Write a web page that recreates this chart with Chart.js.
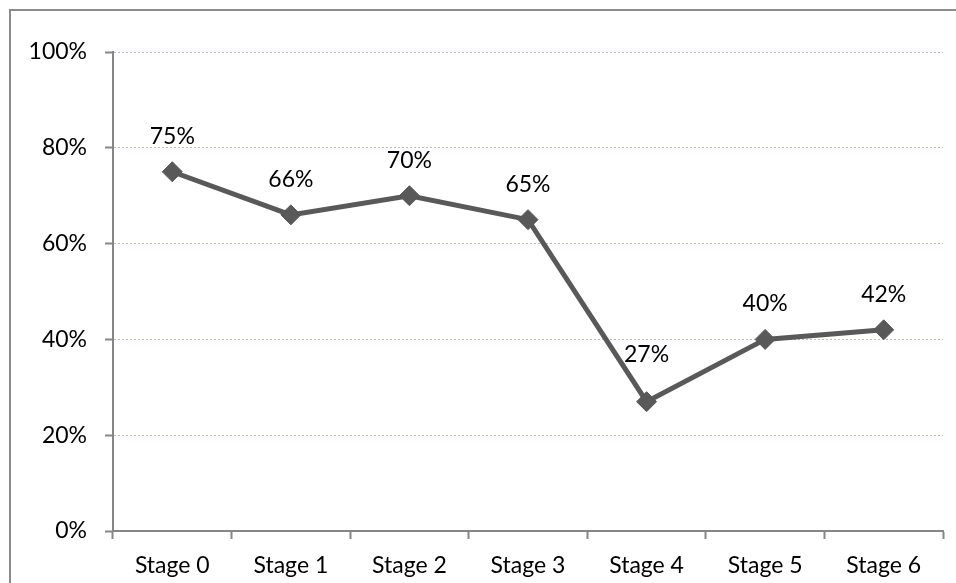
<!DOCTYPE html>
<html>
<head>
<meta charset="utf-8">
<script src="https://cdn.jsdelivr.net/npm/chart.js@4/dist/chart.umd.min.js"></script>
<style>
  html, body { margin: 0; padding: 0; background: #ffffff; }
  #wrap { position: relative; width: 956px; height: 583px; }
</style>
</head>
<body>
<div id="wrap"><canvas id="chart" width="956" height="583"></canvas></div>
<script>
// Share of participants at each stage
const stages = ['Stage 0', 'Stage 1', 'Stage 2', 'Stage 3', 'Stage 4', 'Stage 5', 'Stage 6'];
const shares = [75, 66, 70, 65, 27, 40, 42];
const yTicks = [0, 20, 40, 60, 80, 100];

const FONT = { family: 'Lato, "Liberation Sans", sans-serif', size: 23 };
const AXIS_GREY = '#868686';
const LINE_GREY = '#595959';

// Outer frame around the whole chart
const framePlugin = {
  id: 'frame',
  beforeDraw(chart) {
    const ctx = chart.ctx;
    ctx.save();
    ctx.fillStyle = '#ffffff';
    ctx.fillRect(0, 0, chart.width, chart.height);
    ctx.strokeStyle = '#8c8c8c';
    ctx.lineWidth = 2;
    ctx.strokeRect(10, 10, chart.width + 20, chart.height + 20);
    ctx.restore();
  }
};

// Percentage label above each point
const valueLabels = {
  id: 'valueLabels',
  afterDatasetsDraw(chart, args, opts) {
    const ctx = chart.ctx;
    const meta = chart.getDatasetMeta(0);
    const data = chart.data.datasets[0].data;
    ctx.save();
    ctx.font = `${FONT.size}px ${FONT.family}`;
    ctx.fillStyle = '#000000';
    ctx.textAlign = 'center';
    ctx.textBaseline = 'alphabetic';
    meta.data.forEach((pt, i) => {
      const extra = (opts.extraLift && opts.extraLift[i]) || 0;
      ctx.fillText(data[i] + '%', pt.x, pt.y - opts.lift - extra);
    });
    ctx.restore();
  }
};

new Chart(document.getElementById('chart'), {
  type: 'line',
  data: {
    labels: stages,
    datasets: [{
      data: shares,
      borderColor: LINE_GREY,
      backgroundColor: LINE_GREY,
      borderWidth: 5,
      tension: 0,
      pointStyle: 'rectRot',
      pointRadius: 10,
      pointBorderWidth: 1,
      pointBorderColor: LINE_GREY,
      pointBackgroundColor: LINE_GREY,
      clip: false
    }]
  },
  options: {
    responsive: false,
    animation: false,
    layout: { padding: { top: 52, right: 13, left: 0, bottom: 0 } },
    plugins: {
      legend: { display: false },
      tooltip: { enabled: false },
      valueLabels: { lift: 28, extraLift: { 4: 12 } }
    },
    scales: {
      x: {
        offset: true,
        grid: {
          offset: true,
          drawOnChartArea: false,
          tickLength: 8,
          tickColor: AXIS_GREY,
          tickWidth: 2
        },
        border: { color: AXIS_GREY, width: 2 },
        ticks: { color: '#000000', font: FONT, padding: 13, maxRotation: 0 },
        afterFit(scale) { scale.height = 52; }
      },
      y: {
        min: 0,
        max: 100,
        afterBuildTicks(scale) { scale.ticks = yTicks.map(v => ({ value: v })); },
        grid: {
          color: ctx => (ctx.tick && ctx.tick.value === 0) ? 'rgba(0,0,0,0)' : '#a4bfe3',
          lineWidth: 1,
          tickLength: 8,
          tickColor: AXIS_GREY,
          tickWidth: 2,
          tickBorderDash: []
        },
        border: { color: AXIS_GREY, width: 2, dash: [2, 2] },
        ticks: {
          color: '#000000',
          font: FONT,
          padding: 18,
          callback: v => v + '%'
        },
        afterFit(scale) { scale.width = 113; }
      }
    }
  },
  plugins: [framePlugin, valueLabels]
});
</script>
</body>
</html>
